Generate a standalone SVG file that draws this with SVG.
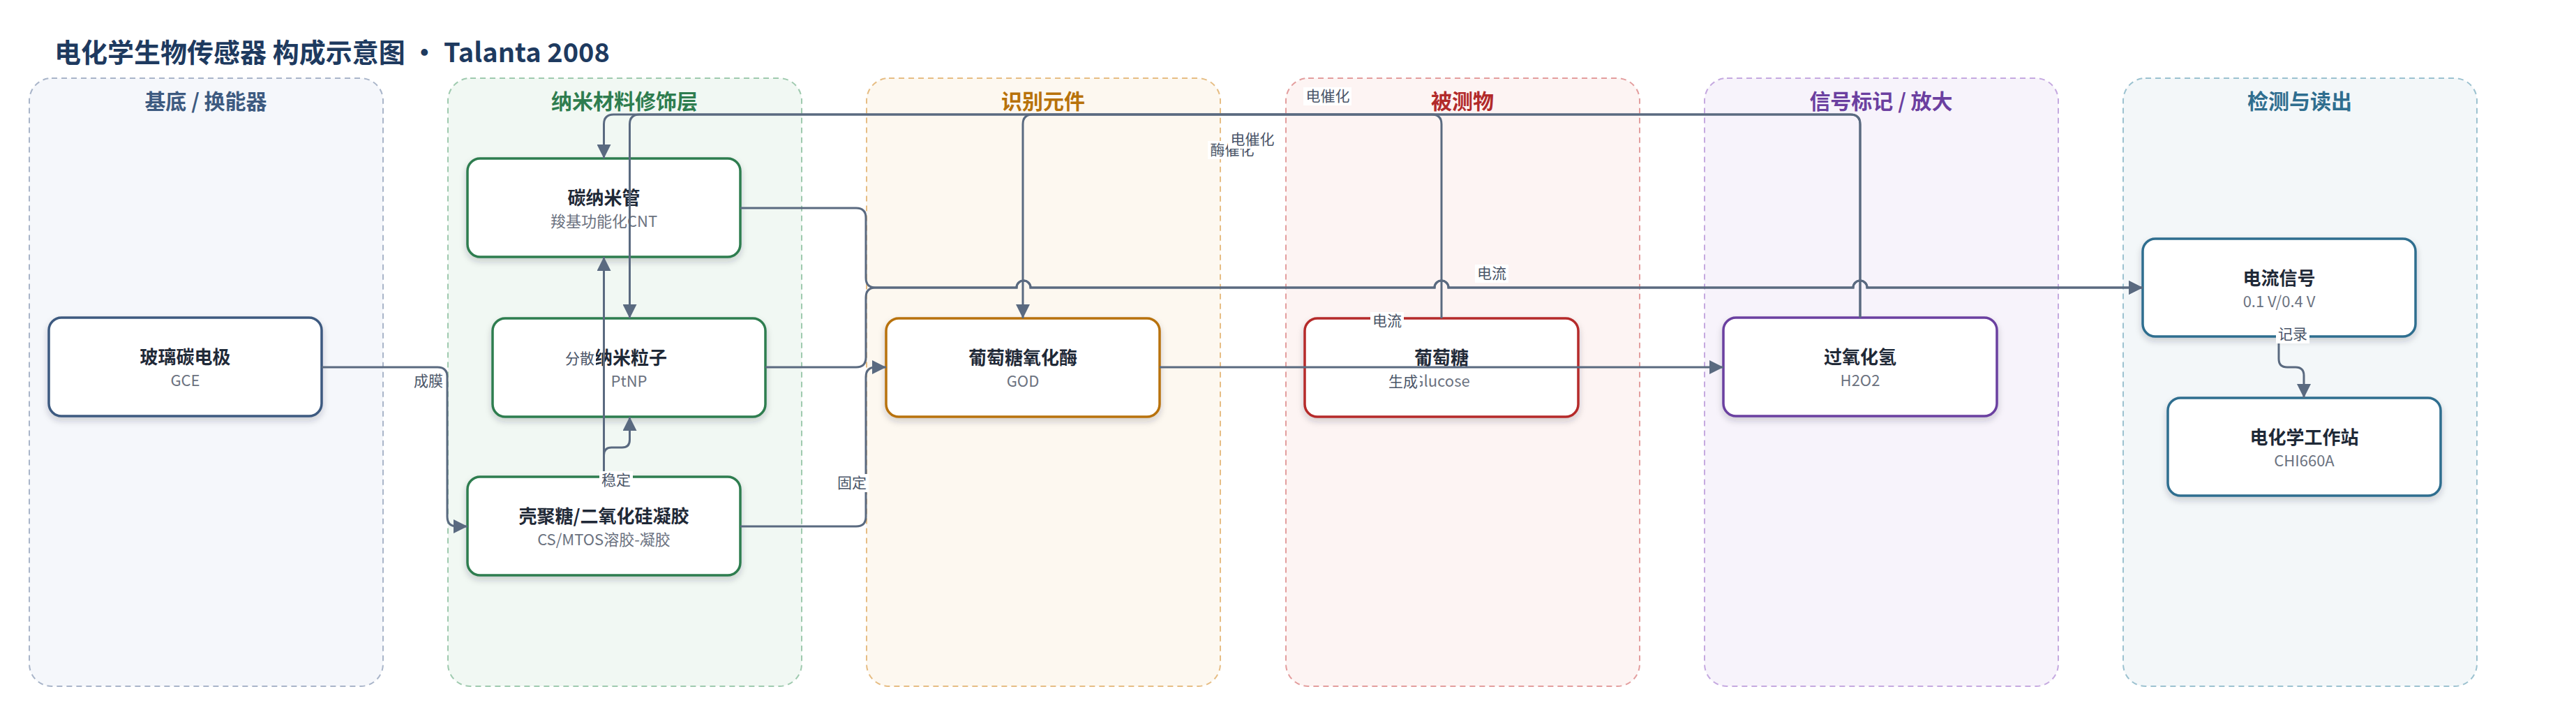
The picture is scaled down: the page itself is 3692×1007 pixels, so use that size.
<svg xmlns="http://www.w3.org/2000/svg" width="3692" height="1007" viewBox="0 0 3692 1007">
<defs>
<filter id="sh" x="-10%" y="-10%" width="120%" height="140%"><feDropShadow dx="0" dy="5" stdDeviation="5" flood-color="#1f2937" flood-opacity="0.2"/></filter>
<marker id="ah" markerUnits="userSpaceOnUse" markerWidth="20" markerHeight="20" refX="20" refY="10" orient="auto"><path d="M0,0 L20,10 L0,20 z" fill="#5a6a80"/></marker>
</defs>
<style>
text{font-family:"Noto Sans CJK SC","Noto Sans",sans-serif}
.title{font-size:38px;font-weight:700;fill:#1e3a5f}
.pt{font-size:30px;font-weight:700;text-anchor:middle}
.panel{stroke-width:2;stroke-dasharray:8 6}
.node rect{fill:#fff;stroke-width:3.5;filter:url(#sh)}
.nt{font-size:26px;font-weight:700;fill:#1f2937;text-anchor:middle}
.ns{font-size:22px;fill:#6b7280;text-anchor:middle}
.e{fill:none;stroke:#5a6a80;stroke-width:3}
.ea{marker-end:url(#ah)}
.lb rect{fill:#fff}
.lb text{font-size:21px;fill:#4a5568;text-anchor:middle}
</style>
<rect width="3692" height="1007" fill="#fff"/>
<text class="title" x="78" y="89">电化学生物传感器 构成示意图 · Talanta 2008</text>

<g id="panels">
<g id="p-substrate"><rect class="panel" x="42" y="112" width="507" height="871" rx="32" fill="#f5f7fb" stroke="#a9b5c9"/><text class="pt" x="295" y="156" fill="#3d5a80">基底 / 换能器</text></g>
<g id="p-nano"><rect class="panel" x="642" y="112" width="507" height="871" rx="32" fill="#f1f8f3" stroke="#9fcaaf"/><text class="pt" x="895" y="156" fill="#2e7d4f">纳米材料修饰层</text></g>
<g id="p-recog"><rect class="panel" x="1242" y="112" width="507" height="871" rx="32" fill="#fdf8f0" stroke="#e6bd84"/><text class="pt" x="1495" y="156" fill="#b8720a">识别元件</text></g>
<g id="p-analyte"><rect class="panel" x="1843" y="112" width="507" height="871" rx="32" fill="#fdf4f3" stroke="#e39e9e"/><text class="pt" x="2096" y="156" fill="#b22a2a">被测物</text></g>
<g id="p-signal"><rect class="panel" x="2443" y="112" width="507" height="871" rx="32" fill="#f7f3fb" stroke="#c5a9e0"/><text class="pt" x="2696" y="156" fill="#6b3fa0">信号标记 / 放大</text></g>
<g id="p-detect"><rect class="panel" x="3043" y="112" width="507" height="871" rx="32" fill="#f3f7f9" stroke="#9cc2d0"/><text class="pt" x="3296" y="156" fill="#2f6e8f">检测与读出</text></g>
</g>

<g id="nodes">
<g id="n-gce" class="node"><rect x="70" y="455" width="391" height="141" rx="18" stroke="#3d5a80"/><text class="nt" x="265.5" y="521">玻璃碳电极</text><text class="ns" x="265.5" y="553">GCE</text></g>
<g id="n-cnt" class="node"><rect x="670" y="227" width="391" height="141" rx="18" stroke="#2e7d4f"/><text class="nt" x="865.5" y="293">碳纳米管</text><text class="ns" x="865.5" y="325">羧基功能化CNT</text></g>
<g id="n-ptnp" class="node"><rect x="706" y="456" width="391" height="141" rx="18" stroke="#2e7d4f"/><text class="nt" x="904" y="522">纳米粒子</text><text class="ns" x="901.5" y="554">PtNP</text></g>
<g id="n-cs" class="node"><rect x="670" y="683" width="391" height="141" rx="18" stroke="#2e7d4f"/><text class="nt" x="865.5" y="749">壳聚糖/二氧化硅凝胶</text><text class="ns" x="865.5" y="781">CS/MTOS溶胶-凝胶</text></g>
<g id="n-god" class="node"><rect x="1270" y="456" width="392" height="141" rx="18" stroke="#b8720a"/><text class="nt" x="1466" y="522">葡萄糖氧化酶</text><text class="ns" x="1466" y="554">GOD</text></g>
<g id="n-glucose" class="node"><rect x="1870" y="456" width="392" height="141" rx="18" stroke="#b52a2a"/><text class="nt" x="2066" y="522">葡萄糖</text><text class="ns" x="2066" y="554">Glucose</text></g>
<g id="n-h2o2" class="node"><rect x="2470" y="455" width="392" height="141" rx="18" stroke="#6b3fa0"/><text class="nt" x="2666" y="521">过氧化氢</text><text class="ns" x="2666" y="553">H2O2</text></g>
<g id="n-current" class="node"><rect x="3071" y="342" width="391" height="140" rx="18" stroke="#2f6e8f"/><text class="nt" x="3266.5" y="408">电流信号</text><text class="ns" x="3266.5" y="440">0.1 V/0.4 V</text></g>
<g id="n-chi" class="node"><rect x="3107" y="570" width="391" height="140" rx="18" stroke="#2f6e8f"/><text class="nt" x="3302.5" y="636">电化学工作站</text><text class="ns" x="3302.5" y="668">CHI660A</text></g>
</g>

<g id="connectors">
<path class="e ea" d="M461,526 H627 Q641,526 641,540 V740 Q641,754 655,754 H670"/>
<path class="e ea" d="M865.5,683 V368"/>
<path class="e ea" d="M865.5,683 V652 Q865.5,641 876.5,641 H891.5 Q902.5,641 902.5,630 V597"/>
<path class="e ea" d="M1061,298 H1227 Q1241,298 1241,312 V398 Q1241,412 1255,412 H1457 A10,10 0 0 1 1477,412 H2056 A10,10 0 0 1 2076,412 H2656 A10,10 0 0 1 2676,412 H3071"/>
<path class="e ea" d="M1097,526 H1227 Q1241,526 1241,512 V426 Q1241,412 1255,412 H1457 A10,10 0 0 1 1477,412 H2056 A10,10 0 0 1 2076,412 H2656 A10,10 0 0 1 2676,412 H3071"/>
<path class="e ea" d="M1061,754 H1227 Q1241,754 1241,740 V540 Q1241,526 1255,526 H1270"/>
<path class="e ea" d="M1662,526 H2470"/>
<path class="e ea" d="M2066,456 V178 Q2066,164 2052,164 H1480 Q1466,164 1466,178 V456"/>
<path class="e ea" d="M2666,455 V178 Q2666,164 2652,164 H879.5 Q865.5,164 865.5,178 V227"/>
<path class="e ea" d="M2666,455 V178 Q2666,164 2652,164 H916.5 Q902.5,164 902.5,178 V456"/>
<path class="e ea" d="M3266,482 V514 Q3266,526 3278,526 H3290 Q3302,526 3302,538 V570"/>
</g>

<g id="labels">
<g class="lb"><text x="614" y="553">成膜</text></g>
<g class="lb"><rect x="809" y="501" width="45" height="26"/><text x="831" y="521">分散</text></g>
<g class="lb"><rect x="859" y="675" width="48" height="26"/><text x="883" y="695">稳定</text></g>
<g class="lb"><rect x="1197" y="679" width="48" height="26"/><text x="1221" y="699">固定</text></g>
<g class="lb"><rect x="1987" y="534" width="48" height="26"/><text x="2011" y="554">生成</text></g>
<g class="lb"><rect x="1964" y="447" width="48" height="26"/><text x="1988" y="467">电流</text></g>
<g class="lb"><rect x="2114" y="379" width="48" height="26"/><text x="2138" y="399">电流</text></g>
<g class="lb"><rect x="1731" y="202" width="69" height="26"/><text x="1766" y="222">酶催化</text></g>
<g class="lb"><rect x="1760" y="187" width="69" height="26"/><text x="1795" y="207">电催化</text></g>
<g class="lb"><rect x="1868" y="125" width="69" height="26"/><text x="1903" y="145">电催化</text></g>
<g class="lb"><rect x="3262" y="466" width="48" height="26"/><text x="3286" y="486">记录</text></g>
</g>
</svg>
